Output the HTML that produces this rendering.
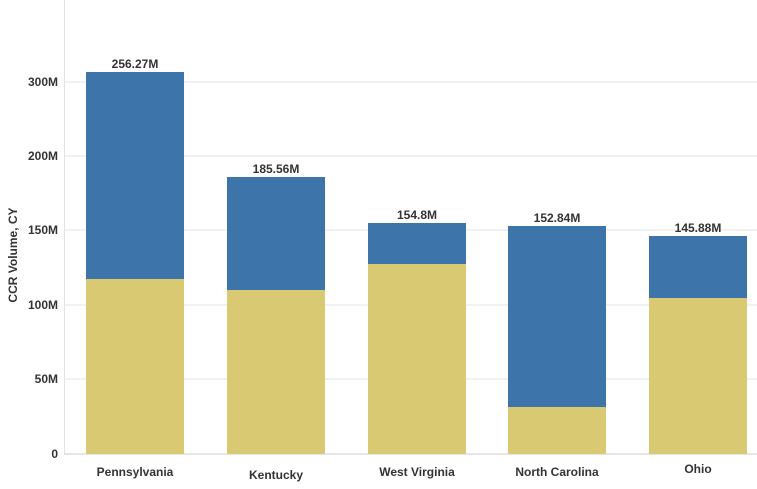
<!DOCTYPE html><html><head><style>body{margin:0;background:#fff}</style></head><body>
<svg width="757" height="484" xmlns="http://www.w3.org/2000/svg" font-family="Liberation Sans, sans-serif" font-weight="bold" fill="#333">
<g stroke="#e3e3e3" stroke-width="1">
<line x1="64" y1="82" x2="757" y2="82"/><line x1="64" y1="156" x2="757" y2="156"/><line x1="64" y1="230" x2="757" y2="230"/><line x1="64" y1="305" x2="757" y2="305"/><line x1="64" y1="379" x2="757" y2="379"/>
<line x1="64.5" y1="0" x2="64.5" y2="454"/></g>
<line x1="64" y1="454" x2="757" y2="454" stroke="#ccc"/>
<g font-size="12" text-anchor="end">
<text x="58" y="86">300M</text><text x="58" y="160">200M</text><text x="58" y="234">150M</text><text x="58" y="309">100M</text><text x="58" y="383">50M</text><text x="58" y="458">0</text></g>
<text transform="translate(17,255) rotate(-90)" font-size="12" text-anchor="middle">CCR Volume, CY</text>
<g fill="#3d75ab"><rect x="86" y="72" width="98" height="207"/><rect x="227" y="177" width="98" height="113"/><rect x="368" y="223" width="98" height="41"/><rect x="508" y="226" width="98" height="181"/><rect x="649" y="236" width="98" height="62"/></g>
<g fill="#d9c973"><rect x="86" y="279" width="98" height="175"/><rect x="227" y="290" width="98" height="164"/><rect x="368" y="264" width="98" height="190"/><rect x="508" y="407" width="98" height="47"/><rect x="649" y="298" width="98" height="156"/></g>
<g font-size="12" text-anchor="middle">
<text x="135" y="68">256.27M</text><text x="276" y="173">185.56M</text><text x="417" y="219">154.8M</text><text x="557" y="222">152.84M</text><text x="698" y="232">145.88M</text>
<text x="135" y="476">Pennsylvania</text><text x="276" y="479">Kentucky</text><text x="417" y="476">West Virginia</text><text x="557" y="476">North Carolina</text><text x="698" y="473">Ohio</text></g>
</svg></body></html>
